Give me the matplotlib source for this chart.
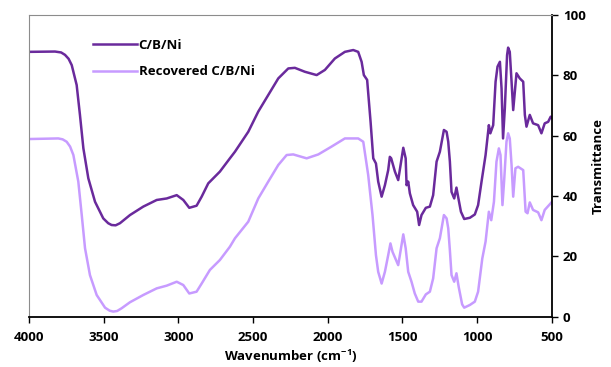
import numpy as np
import matplotlib
matplotlib.use("Agg")
import matplotlib.pyplot as plt

# wavenumber (cm-1) / transmittance
wn_cbni = [4000, 3826, 3785, 3759, 3735, 3714, 3681, 3659, 3636, 3603, 3558, 3503,
           3470, 3447, 3420, 3391,
           3324, 3235, 3145, 3078, 3011, 2967, 2927, 2878, 2844, 2800, 2722, 2655,
           2621, 2532, 2465, 2398, 2331, 2264, 2220, 2153, 2074, 2019, 1952, 1885,
           1829, 1796, 1773, 1758, 1736, 1713, 1695, 1677, 1662, 1639, 1617, 1595,
           1584, 1575, 1550, 1528, 1512, 1494, 1478, 1472, 1461, 1450, 1428, 1401,
           1388, 1372, 1343, 1316, 1294, 1271, 1249, 1222, 1204, 1193, 1182, 1171,
           1153, 1138, 1127, 1108, 1086, 1048, 1015, 993, 970, 943, 921, 911, 892,
           876, 863, 847, 836, 826, 814, 799, 792, 781, 769, 758, 747, 736, 714,
           691, 680, 669, 647, 625, 591, 569, 547, 524, 507, 500]
t_cbni = [87.8, 87.9, 87.6, 86.8, 85.5, 83.4, 76.8, 66.9, 55.8, 45.9, 38.1, 32.6,
          31.0, 30.4, 30.3, 31.0,
          33.7, 36.5, 38.7, 39.2, 40.3, 38.7, 36.1, 36.8, 39.8, 44.2, 48.1, 52.5,
          54.7, 61.3, 68.0, 73.5, 79.0, 82.3, 82.5, 81.2, 80.1, 81.8, 85.6, 87.8,
          88.4, 87.8, 84.5, 80.1, 78.5, 64.6, 52.5, 50.8, 44.8, 39.8, 43.6, 48.6,
          53.0, 52.5, 48.1, 45.3, 50.3, 56.0, 52.5, 43.6, 44.8, 40.9, 37.0, 34.8,
          30.4, 33.7, 36.1, 36.5, 40.3, 51.4, 54.7, 61.9, 61.3, 58.0, 51.4, 41.4,
          39.2, 42.8, 39.8, 34.8, 32.4, 32.8, 33.9, 37.0, 44.8, 53.6, 63.5, 60.8,
          63.5, 77.9, 82.9, 84.5, 75.7, 59.1, 69.1, 86.7, 89.2, 87.8, 77.9, 68.5,
          74.6, 80.7, 79.0, 77.9, 66.9, 63.0, 66.9, 64.1, 63.5, 60.8, 64.1, 64.6,
          66.3, 66.0]

wn_rec = [4000, 3804, 3775, 3748, 3725, 3703, 3670, 3647, 3625, 3592, 3547, 3491,
          3460, 3436, 3410, 3380,
          3324, 3235, 3145, 3078, 3011, 2967, 2927, 2878, 2844, 2789, 2722, 2655,
          2621, 2532, 2465, 2398, 2331, 2275, 2231, 2141, 2063, 1974, 1885, 1796,
          1762, 1729, 1700, 1677, 1662, 1639, 1617, 1595, 1580, 1566, 1528, 1494,
          1478, 1461, 1439, 1417, 1394, 1372, 1343, 1316, 1294, 1271, 1249, 1222,
          1204, 1193, 1182, 1171, 1153, 1138, 1123, 1100, 1086, 1048, 1015, 993,
          965, 943, 921, 905, 887, 870, 854, 843, 830, 819, 803, 792, 781, 769,
          758, 743, 725, 691, 675, 662, 647, 625, 591, 569, 547, 507, 500]
t_rec = [58.9, 59.1, 58.8, 58.0, 56.4, 53.6, 44.8, 33.7, 22.7, 13.8, 7.2, 3.0,
         2.0, 1.7, 1.9, 2.8,
         4.8, 7.2, 9.4, 10.3, 11.6, 10.5, 7.7, 8.3, 11.0, 15.5, 18.8, 23.2,
         26.0, 31.5, 39.2, 44.8, 50.3, 53.6, 53.8, 52.5, 53.8, 56.4, 59.1, 59.1,
         58.0, 47.0, 33.7, 20.4, 14.9, 11.0, 14.9, 20.4, 24.3, 21.5, 17.1, 27.3,
         22.7, 14.9, 11.6, 7.7, 5.0, 5.0, 7.4, 8.3, 12.7, 22.7, 26.0, 33.7,
         32.6, 29.3, 22.0, 13.8, 11.6, 14.4, 9.9, 4.1, 3.0, 3.9, 5.0, 8.3,
         19.3, 24.9, 34.8, 32.0, 38.1, 51.4, 55.8, 53.6, 37.0, 44.8, 58.0, 60.8,
         59.1, 50.3, 39.8, 49.2, 49.7, 48.6, 34.8, 34.3, 37.9, 35.4, 34.6, 32.0,
         35.4, 37.6, 38.0]

y_ticks = [0, 20, 40, 60, 80, 100]
x_ticks = [4000, 3500, 3000, 2500, 2000, 1500, 1000, 500]

dark = "#6a2a9c"
light = "#c79bff"

plt.rcParams['font.family'] = ['Open Sans', 'DejaVu Sans']
plt.rcParams['font.weight'] = 'bold'

fig = plt.figure(figsize=(6.11, 3.67), dpi=100)
ax = fig.add_axes([0.0475, 0.137, 0.8555, 0.822])

ax.plot(wn_cbni, t_cbni, color=dark, lw=1.8, label="C/B/Ni")
ax.plot(wn_rec, t_rec, color=light, lw=1.8, label="Recovered C/B/Ni")

ax.set_xlim(4000, 500)
ax.set_ylim(0, 100)
ax.set_xticks(x_ticks)
ax.set_yticks(y_ticks)
ax.yaxis.tick_right()
ax.yaxis.set_label_position("right")
ax.tick_params(axis='both', labelsize=9.5, direction='out', length=4, width=1)
ax.tick_params(axis='x', pad=6)
ax.tick_params(axis='y', pad=4)

for s in ['left', 'top']:
    ax.spines[s].set_color('#8c8c8c')
    ax.spines[s].set_linewidth(0.8)
for s in ['bottom', 'right']:
    ax.spines[s].set_color('black')
    ax.spines[s].set_linewidth(1.3)

ax.set_xlabel("Wavenumber (cm$^{\\mathregular{-1}}$)", fontsize=9.5,
              fontweight='bold', labelpad=3)
ax.set_ylabel("Transmittance", fontsize=9.5, fontweight='bold', labelpad=4)

leg = ax.legend(loc='upper left', bbox_to_anchor=(0.1, 0.96), frameon=False,
                handlelength=3.3, handletextpad=0.15, labelspacing=1.0,
                prop={'size': 9.5, 'weight': 'bold'})

fig.savefig("out.png", dpi=100)
